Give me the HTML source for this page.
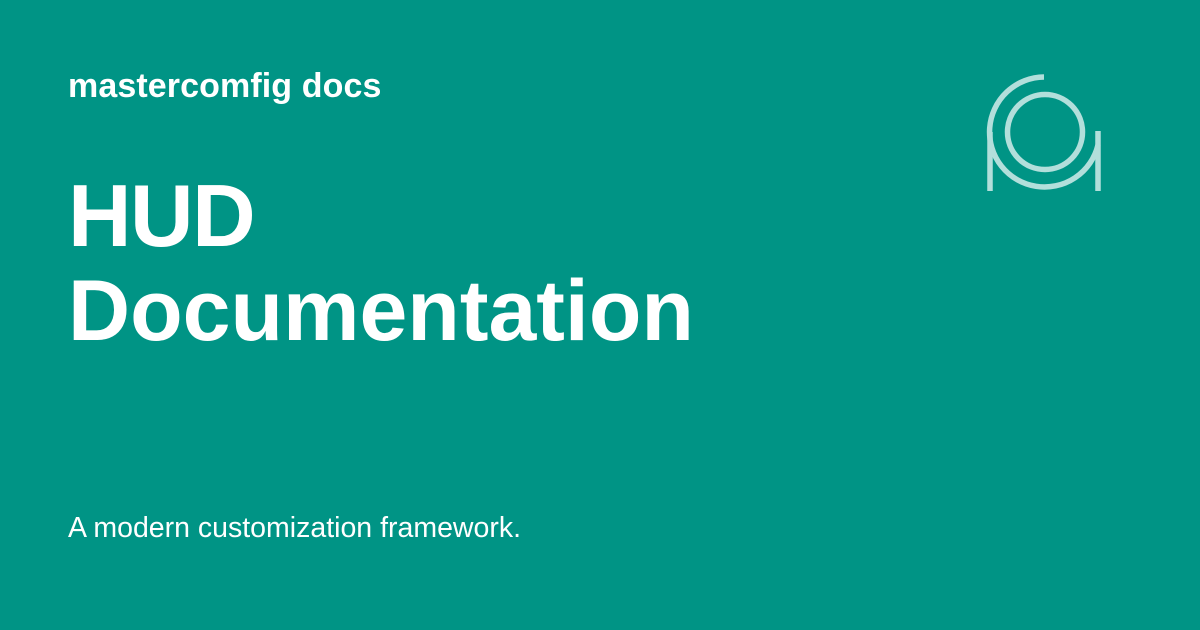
<!DOCTYPE html>
<html><head><meta charset="utf-8"><style>
html,body{margin:0;padding:0}
body{width:1200px;height:630px;background:#009485;position:relative;overflow:hidden;font-family:"Liberation Sans",sans-serif;color:#fff}
.t{position:absolute;left:68px;white-space:nowrap;line-height:1}
</style></head><body>
<div class="t" style="top:69px;font-size:34px;font-weight:bold;letter-spacing:0.1px">mastercomfig docs</div>
<div class="t" style="top:172px;font-size:88px;font-weight:bold;letter-spacing:-1.5px">HUD</div>
<div class="t" style="top:268px;font-size:86px;font-weight:bold">Documentation</div>
<div class="t" style="top:514px;font-size:28.5px">A modern customization framework.</div>
<svg style="position:absolute;left:0;top:0" width="1200" height="630">
<g fill="none" stroke="#b2dfdb" stroke-width="5.5">
<circle cx="1045" cy="132" r="37.5"/>
<path d="M1044 77 A55 55 0 1 0 1098 145"/>
<line x1="990" y1="132" x2="990" y2="191"/>
<line x1="1098" y1="131" x2="1098" y2="191"/>
</g>
</svg>
</body></html>
